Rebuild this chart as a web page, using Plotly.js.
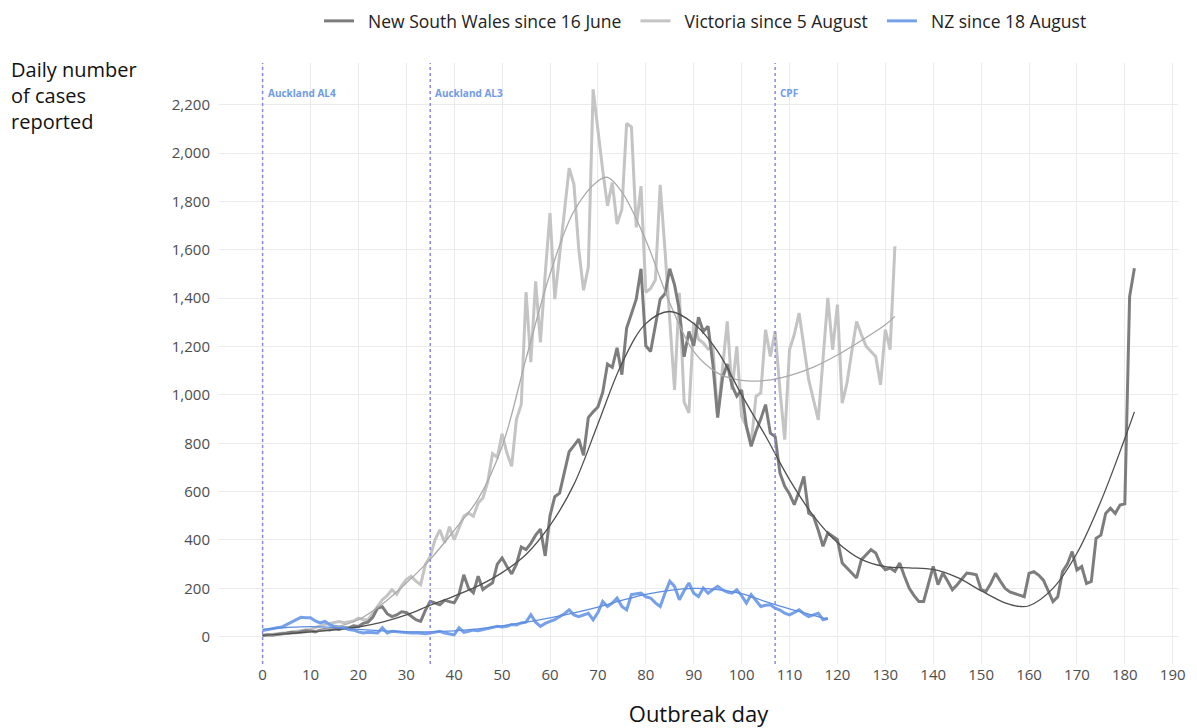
<!DOCTYPE html>
<html>
<head>
<meta charset="utf-8">
<script src="https://cdn.plot.ly/plotly-3.0.1.min.js"></script>
<style>
  html, body { margin: 0; padding: 0; background: #ffffff; }
  #chart { width: 1197px; height: 728px; }
</style>
</head>
<body>
<div id="chart"></div>
<script>
// ---- Data ----
// Daily cases, index = outbreak day
const nswCases = [
  5, 8, 6, 10, 12, 14, 18, 16, 22, 25,
  24, 20, 27, 30, 28, 34, 30, 38, 36, 45,
  42, 55, 60, 80, 118, 124, 95, 83, 90, 103,
  100, 85, 70, 63, 110, 146, 140, 132, 150, 145,
  140, 175, 256, 200, 182, 250, 195, 210, 223, 300,
  326, 290, 260, 300, 371, 360, 386, 420, 445, 334,
  500, 579, 594, 680, 765, 790, 817, 750, 906, 930,
  950, 1010, 1128, 1114, 1195, 1084, 1277, 1336, 1396, 1522,
  1203, 1180, 1292, 1396, 1418, 1522, 1455, 1351, 1158, 1262,
  1203, 1321, 1262, 1284, 1128, 906, 1069, 1128, 1039, 995,
  1021, 870, 787, 850, 900, 960, 842, 828, 677, 622,
  590, 546, 600, 663, 511, 498, 440, 374, 429, 415,
  401, 305, 284, 260, 243, 318, 340, 360, 346, 300,
  277, 284, 270, 305, 250, 200, 170, 146, 146, 220,
  291, 215, 263, 230, 194, 215, 240, 263, 260, 256,
  194, 187, 220, 262, 230, 200, 185, 179, 170, 165,
  262, 269, 255, 234, 190, 145, 165, 269, 300, 352,
  276, 290, 220, 228, 407, 420, 510, 531, 510, 545,
  550, 1407, 1524
];
const vicCases = [
  5, 8, 10, 12, 14, 16, 18, 22, 25, 29,
  30, 38, 45, 50, 55, 60, 63, 58, 60, 65,
  77, 70, 70, 100, 125, 153, 170, 194, 175, 210,
  236, 250, 230, 215, 300, 332, 401, 442, 388, 455,
  401, 450, 498, 511, 498, 553, 574, 640, 757, 742,
  839, 760, 705, 900, 960, 1425, 1136, 1470, 1217, 1500,
  1752, 1396, 1574, 1750, 1938, 1871, 1603, 1433, 1529, 2264,
  2094, 1930, 1782, 1878, 1707, 1767, 2123, 2108, 1693, 1863,
  1425, 1440, 1476, 1869, 1600, 1300, 1021, 1422, 970, 926,
  1300, 1230, 1215, 1190, 1200, 911, 1100, 1304, 1021, 1201,
  911, 870, 801, 994, 1008, 1270, 1159, 1263, 1021, 815,
  1187, 1250, 1339, 1200, 1063, 980, 897, 1150, 1401, 1187,
  1373, 966, 1050, 1180, 1304, 1250, 1201, 1180, 1159, 1042,
  1270, 1187, 1615
];
const nzCases = [
  25, 30, 35, 37, 40, 50, 57, 70, 80, 78,
  78, 65, 57, 63, 50, 43, 40, 37, 30, 27,
  20, 15, 18, 15, 15, 37, 15, 22, 20, 17,
  18, 15, 16, 15, 12, 15, 18, 22, 15, 12,
  8, 37, 18, 22, 27, 25, 29, 32, 38, 43,
  40, 43, 50, 48, 57, 60, 91, 60, 43, 55,
  63, 70, 83, 95, 111, 90, 83, 90, 97, 70,
  100, 146, 125, 139, 160, 125, 111, 174, 178, 180,
  165, 160, 140, 125, 180, 229, 208, 153, 190, 222,
  180, 166, 201, 180, 195, 208, 194, 185, 180, 194,
  170, 139, 174, 150, 125, 130, 132, 118, 110, 97,
  90, 100, 111, 95, 83, 90, 97, 70, 76
];

// Smoothed trend lines (read at sample days)
const nswSmoothDays = [0,5,10,15,20,25,30,35,40,45,50,55,60,65,70,75,80,85,90,95,100,105,110,115,120,125,130,135,140,145,150,155,158,160,165,170,175,180,182];
const nswSmooth     = [5,12,20,28,40,60,90,130,168,210,265,340,460,630,880,1130,1295,1345,1295,1180,1000,830,650,500,390,320,290,285,278,245,190,140,125,128,200,345,560,820,930];
const vicSmoothDays = [0,5,10,15,20,25,30,35,40,45,50,55,60,65,70,72,75,80,85,90,95,100,105,110,115,120,125,130,132];
const vicSmooth     = [5,10,20,38,70,135,222,320,440,570,787,1150,1500,1760,1885,1900,1840,1640,1380,1180,1090,1060,1060,1080,1115,1165,1225,1290,1325];
const nzSmoothDays  = [0,5,10,15,20,25,30,35,40,45,50,55,60,65,70,75,80,85,90,95,100,105,110,115,118];
const nzSmooth      = [30,38,42,38,30,24,20,20,24,32,45,60,78,98,122,150,175,192,200,195,178,145,115,88,72];

// Events (vertical markers)
const eventDays   = [0, 35, 107];
const eventLabels = ["Auckland AL4", "Auckland AL3", "CPF"];

// Legend labels
const seriesNames = ["New South Wales since 16 June", "Victoria since 5 August", "NZ since 18 August"];

// Axis ticks
const xTicks = [0,10,20,30,40,50,60,70,80,90,100,110,120,130,140,150,160,170,180,190];
const yTicks = [0,200,400,600,800,1000,1200,1400,1600,1800,2000,2200];

// Y-axis title
const yTitle = "Daily number<br>of cases<br>reported";

// ---- Build ----
const idx = arr => arr.map((_, i) => i);
const FONT = "Open Sans, Noto Sans, sans-serif";
const pad = s => "\u00a0\u00a0" + s + "\u00a0\u00a0";

const colNSW = "#7d7d7d", colVic = "#c4c4c4", colNZ = "#76a0ea";

const traces = [
  { x: idx(vicCases), y: vicCases, type: "scatter", mode: "lines", name: pad(seriesNames[1]),
    line: { color: colVic, width: 3 }, legendrank: 2 },
  { x: idx(nswCases), y: nswCases, type: "scatter", mode: "lines", name: pad(seriesNames[0]),
    line: { color: colNSW, width: 3 }, legendrank: 1 },
  { x: idx(nzCases), y: nzCases, type: "scatter", mode: "lines", name: pad(seriesNames[2]),
    line: { color: colNZ, width: 3 }, legendrank: 3 },
  { x: vicSmoothDays, y: vicSmooth, type: "scatter", mode: "lines", showlegend: false,
    line: { color: "#aaaaaa", width: 1.3, shape: "spline", smoothing: 1 } },
  { x: nswSmoothDays, y: nswSmooth, type: "scatter", mode: "lines", showlegend: false,
    line: { color: "#4f4f4f", width: 1.3, shape: "spline", smoothing: 1 } },
  { x: nzSmoothDays, y: nzSmooth, type: "scatter", mode: "lines", showlegend: false,
    line: { color: "#5d8de0", width: 1.3, shape: "spline", smoothing: 1 } }
];

const shapes = eventDays.map(d => ({
  type: "line", xref: "x", yref: "paper", x0: d, x1: d, y0: 0, y1: 1,
  line: { color: "#8a8ae6", width: 1.5, dash: "dot" }, layer: "above"
}));

const annotations = eventDays.map((d, i) => ({
  x: d, y: 2250, xref: "x", yref: "y", xanchor: "left", yanchor: "middle", xshift: 3,
  text: "<b>" + eventLabels[i] + "</b>", showarrow: false,
  font: { family: FONT, size: 10, color: "#6f9be8" }
}));

// y-axis title placed top-left
annotations.push({
  xref: "paper", yref: "paper", x: -0.219, y: (664 - 54) / 601,
  xanchor: "left", yanchor: "top", align: "left", showarrow: false,
  text: yTitle, font: { family: FONT, size: 20, color: "#111111" }
});

const layout = {
  width: 1197, height: 728,
  paper_bgcolor: "#ffffff", plot_bgcolor: "#ffffff",
  margin: { l: 219, r: 19, t: 63, b: 64, pad: 0, autoexpand: false },
  font: { family: FONT, color: "#4d4d4d" },
  showlegend: true,
  legend: {
    orientation: "h", x: 0.512, xanchor: "center", y: (664 - 21) / 601, yanchor: "middle",
    font: { family: FONT, size: 17.5, color: "#222222" },
    itemwidth: 30, bgcolor: "rgba(0,0,0,0)", tracegroupgap: 0
  },
  xaxis: {
    range: [-9.1, 191.1], tickvals: xTicks, ticktext: xTicks.map(String),
    showgrid: true, gridcolor: "#ebebeb", gridwidth: 1, zeroline: false, showline: false,
    ticks: "", tickfont: { family: FONT, size: 15, color: "#4d4d4d" },
    title: { text: "Outbreak day", font: { family: FONT, size: 22, color: "#111111" }, standoff: 24 }
  },
  yaxis: {
    range: [-113, 2373], tickvals: yTicks, tickformat: ",",
    showgrid: true, gridcolor: "#ebebeb", gridwidth: 1, zeroline: false, showline: false,
    ticks: "", ticklabelstandoff: 8, tickfont: { family: FONT, size: 15, color: "#4d4d4d" }
  },
  shapes: shapes,
  annotations: annotations
};

Plotly.newPlot("chart", traces, layout, { displayModeBar: false, staticPlot: true });
</script>
</body>
</html>
